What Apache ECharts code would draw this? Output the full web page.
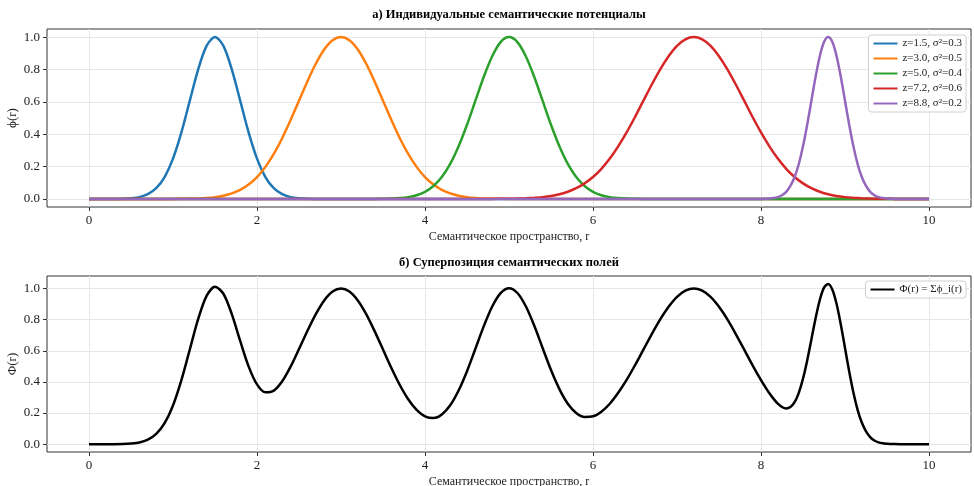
<!DOCTYPE html>
<html>
<head>
<meta charset="utf-8">
<script src="https://cdn.jsdelivr.net/npm/echarts@6/dist/echarts.min.js"></script>
<style>
html, body { margin: 0; padding: 0; background: #fff; }
#chart { width: 974px; height: 486px; }
</style>
</head>
<body>
<div id="chart"></div>
<script>
const blueR = [0, 0.3, 0.4, 0.5, 0.6, 0.7, 0.8, 0.9, 1.0, 1.1, 1.2, 1.3, 1.4, 1.5, 1.6, 1.7, 1.8, 1.9, 2.0, 2.1, 2.2, 2.3, 2.4, 2.5, 2.6, 2.7, 10];
const bluePhi = [0, 0.000, 0.001, 0.004, 0.011, 0.029, 0.066, 0.135, 0.249, 0.411, 0.607, 0.801, 0.946, 1.000, 0.946, 0.801, 0.607, 0.411, 0.249, 0.135, 0.066, 0.029, 0.011, 0.004, 0.001, 0.000, 0];

const orangeR = [0, 1.0, 1.1, 1.2, 1.3, 1.4, 1.5, 1.6, 1.7, 1.8, 1.9, 2.0, 2.1, 2.2, 2.3, 2.4, 2.5, 2.6, 2.7, 2.8, 2.9, 3.0,
    3.1, 3.2, 3.3, 3.4, 3.5, 3.6, 3.7, 3.8, 3.9, 4.0, 4.1, 4.2, 4.3, 4.4, 4.5, 4.6, 4.7, 4.8, 4.9, 5.0, 10];
const orangePhi = [0, 0.000, 0.001, 0.002, 0.003, 0.006, 0.011, 0.020, 0.034, 0.056, 0.089, 0.135, 0.198, 0.278, 0.375, 0.487, 0.607, 0.726, 0.835, 0.923, 0.980, 1.000,
    0.980, 0.923, 0.835, 0.726, 0.607, 0.487, 0.375, 0.278, 0.198, 0.135, 0.089, 0.056, 0.034, 0.020, 0.011, 0.006, 0.003, 0.002, 0.001, 0.000, 0];

const greenR = [0, 3.4, 3.5, 3.6, 3.7, 3.8, 3.9, 4.0, 4.1, 4.2, 4.3, 4.4, 4.5, 4.6, 4.7, 4.8, 4.9, 5.0,
    5.1, 5.2, 5.3, 5.4, 5.5, 5.6, 5.7, 5.8, 5.9, 6.0, 6.1, 6.2, 6.3, 6.4, 6.5, 6.6, 10];
const greenPhi = [0, 0.000, 0.001, 0.002, 0.005, 0.011, 0.023, 0.044, 0.080, 0.135, 0.216, 0.325, 0.458, 0.607, 0.755, 0.882, 0.969, 1.000,
    0.969, 0.882, 0.755, 0.607, 0.458, 0.325, 0.216, 0.135, 0.080, 0.044, 0.023, 0.011, 0.005, 0.002, 0.001, 0.000, 0];

const redR = [0, 4.8, 4.9, 5.0, 5.1, 5.2, 5.3, 5.4, 5.5, 5.6, 5.7, 5.8, 5.9, 6.0, 6.1, 6.2, 6.3, 6.4, 6.5, 6.6, 6.7, 6.8, 6.9, 7.0, 7.1, 7.2,
    7.3, 7.4, 7.5, 7.6, 7.7, 7.8, 7.9, 8.0, 8.1, 8.2, 8.3, 8.4, 8.5, 8.6, 8.7, 8.8, 8.9, 9.0, 9.1, 9.2, 9.3, 9.4, 9.5, 9.6, 10];
const redPhi = [0, 0.000, 0.001, 0.001, 0.002, 0.004, 0.007, 0.011, 0.018, 0.029, 0.044, 0.066, 0.096, 0.135, 0.186, 0.249, 0.325, 0.411, 0.506, 0.607, 0.707, 0.801, 0.882, 0.946, 0.986, 1.000,
    0.986, 0.946, 0.882, 0.801, 0.707, 0.607, 0.506, 0.411, 0.325, 0.249, 0.186, 0.135, 0.096, 0.066, 0.044, 0.029, 0.018, 0.011, 0.007, 0.004, 0.002, 0.001, 0.001, 0.000, 0];

const purpleR = [0, 8.0, 8.05, 8.1, 8.15, 8.2, 8.25, 8.3, 8.35, 8.4, 8.45, 8.5, 8.55, 8.6, 8.65, 8.7, 8.75, 8.8,
    8.85, 8.9, 8.95, 9.0, 9.05, 9.1, 9.15, 9.2, 9.25, 9.3, 9.35, 9.4, 9.45, 9.5, 9.55, 9.6, 10];
const purplePhi = [0, 0.000, 0.001, 0.002, 0.005, 0.011, 0.023, 0.044, 0.080, 0.135, 0.216, 0.325, 0.458, 0.607, 0.755, 0.882, 0.969, 1.000,
    0.969, 0.882, 0.755, 0.607, 0.458, 0.325, 0.216, 0.135, 0.080, 0.044, 0.023, 0.011, 0.005, 0.002, 0.001, 0.000, 0];

// superposition
const sumR = [0.0, 0.1, 0.2, 0.3, 0.4, 0.5, 0.6, 0.7, 0.8, 0.9, 1.0, 1.1, 1.2, 1.3, 1.4, 1.5, 1.6, 1.7, 1.8, 1.9,
    2.0, 2.1, 2.2, 2.3, 2.4, 2.5, 2.6, 2.7, 2.8, 2.9, 3.0, 3.1, 3.2, 3.3, 3.4, 3.5, 3.6, 3.7, 3.8, 3.9,
    4.0, 4.1, 4.2, 4.3, 4.4, 4.5, 4.6, 4.7, 4.8, 4.9, 5.0, 5.1, 5.2, 5.3, 5.4, 5.5, 5.6, 5.7, 5.8, 5.9,
    6.0, 6.1, 6.2, 6.3, 6.4, 6.5, 6.6, 6.7, 6.8, 6.9, 7.0, 7.1, 7.2, 7.3, 7.4, 7.5, 7.6, 7.7, 7.8, 7.9,
    8.0, 8.05, 8.1, 8.15, 8.2, 8.25, 8.3, 8.35, 8.4, 8.45, 8.5, 8.55, 8.6, 8.65, 8.7, 8.75, 8.8,
    8.85, 8.9, 8.95, 9.0, 9.05, 9.1, 9.15, 9.2, 9.25, 9.3, 9.35, 9.4, 9.45, 9.5, 9.55, 9.6, 9.7, 9.8, 9.9, 10.0];
const sumPhi = [0.000, 0.000, 0.000, 0.000, 0.001, 0.004, 0.011, 0.029, 0.066, 0.135, 0.249, 0.412, 0.608, 0.804, 0.952, 1.011, 0.966, 0.835, 0.663, 0.500,
    0.384, 0.333, 0.344, 0.404, 0.498, 0.611, 0.727, 0.835, 0.923, 0.980, 1.000, 0.980, 0.923, 0.835, 0.726, 0.608, 0.489, 0.380, 0.289, 0.221,
    0.179, 0.168, 0.191, 0.250, 0.345, 0.469, 0.613, 0.758, 0.884, 0.970, 1.002, 0.971, 0.886, 0.762, 0.618, 0.476, 0.354, 0.260, 0.201, 0.175,
    0.179, 0.209, 0.260, 0.330, 0.413, 0.507, 0.607, 0.707, 0.801, 0.882, 0.946, 0.986, 1.000, 0.986, 0.946, 0.882, 0.801, 0.707, 0.607, 0.506,
    0.411, 0.368, 0.327, 0.291, 0.260, 0.239, 0.230, 0.239, 0.270, 0.330, 0.421, 0.538, 0.673, 0.809, 0.926, 1.005, 1.029,
    0.992, 0.900, 0.769, 0.618, 0.467, 0.332, 0.221, 0.139, 0.083, 0.046, 0.024, 0.012, 0.006, 0.003, 0.001, 0.001, 0.000, 0.000, 0.000, 0.000];

const seriesNames = ['z=1.5, σ²=0.3', 'z=3.0, σ²=0.5', 'z=5.0, σ²=0.4', 'z=7.2, σ²=0.6', 'z=8.8, σ²=0.2'];
const sumName = 'Φ(r) = Σϕ_i(r)';
const xTicks = [0, 2, 4, 6, 8, 10];
const yTicks = [0, 0.2, 0.4, 0.6, 0.8, 1.0];

const colors = ['#1f77b4', '#ff7f0e', '#2ca02c', '#d62728', '#9467bd'];
const font = 'Liberation Serif';

function pairs(rs, vs) {
    return rs.map(function (r, i) { return [r, vs[i]]; });
}

const chart = echarts.init(document.getElementById('chart'));

function xAxisFor(gridIndex) {
    return {
        type: 'value',
        gridIndex: gridIndex,
        min: -0.5,
        max: 10.5,
        name: 'Семантическое пространство, r',
        nameLocation: 'middle',
        nameGap: 24,
        nameTextStyle: { fontFamily: font, fontSize: 12, color: '#222' },
        axisLine: { show: false, onZero: false },
        axisTick: { show: true, length: 4, inside: false, customValues: xTicks, lineStyle: { color: '#333' } },
        axisLabel: { customValues: xTicks, margin: 7, fontFamily: font, fontSize: 13, color: '#222' },
        splitLine: { show: true, lineStyle: { color: '#e6e6e6', width: 1 } }
    };
}

function yAxisFor(gridIndex, max, label) {
    return {
        type: 'value',
        gridIndex: gridIndex,
        min: -0.05,
        max: max,
        name: label,
        nameLocation: 'middle',
        nameGap: 28,
        nameMoveOverlap: false,
        nameTextStyle: { fontFamily: font, fontSize: 13, color: '#222' },
        axisLine: { show: false, onZero: false },
        axisTick: { show: true, length: 4, customValues: yTicks, lineStyle: { color: '#333' } },
        axisLabel: {
            customValues: yTicks, margin: 7, fontFamily: font, fontSize: 13, color: '#222',
            formatter: function (v) { return v.toFixed(1); }
        },
        splitLine: { show: true, lineStyle: { color: '#e6e6e6', width: 1 } }
    };
}

const indiv = [[blueR, bluePhi], [orangeR, orangePhi], [greenR, greenPhi], [redR, redPhi], [purpleR, purplePhi]];

const series = indiv.map(function (d, i) {
    return {
        name: seriesNames[i],
        type: 'line',
        xAxisIndex: 0,
        yAxisIndex: 0,
        symbol: 'none',
        smooth: 0.3,
        color: colors[i],
        lineStyle: { width: 2.5, color: colors[i] },
        data: pairs(d[0], d[1])
    };
});
series.push({
    name: sumName,
    type: 'line',
    xAxisIndex: 1,
    yAxisIndex: 1,
    symbol: 'none',
    smooth: 0.3,
    color: '#000',
    lineStyle: { width: 2.5, color: '#000' },
    data: pairs(sumR, sumPhi)
});

const legendBase = {
    orient: 'vertical',
    right: 8,
    backgroundColor: '#fff',
    borderColor: '#d0d0d0',
    borderWidth: 1,
    borderRadius: 3,
    padding: [3, 4, 3, 4],
    itemGap: 4,
    itemWidth: 24,
    itemHeight: 11.5,
    selectedMode: false,
    itemStyle: { opacity: 0 },
    textStyle: { fontFamily: font, fontSize: 11, color: '#222' }
};

const option = {
    animation: false,
    backgroundColor: '#fff',
    title: [
        {
            text: 'а) Индивидуальные семантические потенциалы',
            left: 509, top: 8, padding: 0, textAlign: 'center',
            textStyle: { fontFamily: font, fontSize: 12.5, fontWeight: 'bold', color: '#000' }
        },
        {
            text: 'б) Суперпозиция семантических полей',
            left: 509, top: 256, padding: 0, textAlign: 'center',
            textStyle: { fontFamily: font, fontSize: 12.5, fontWeight: 'bold', color: '#000' }
        }
    ],
    legend: [
        Object.assign({}, legendBase, { top: 35, data: seriesNames }),
        Object.assign({}, legendBase, { top: 281, data: [sumName] })
    ],
    grid: [
        { left: 47, right: 3, top: 29, height: 178, outerBoundsMode: 'none', show: true, borderColor: '#333', borderWidth: 1, backgroundColor: 'transparent' },
        { left: 47, right: 3, top: 276, height: 176, outerBoundsMode: 'none', show: true, borderColor: '#333', borderWidth: 1, backgroundColor: 'transparent' }
    ],
    xAxis: [xAxisFor(0), xAxisFor(1)],
    yAxis: [yAxisFor(0, 1.05, 'ϕ(r)'), yAxisFor(1, 1.08, 'Φ(r)')],
    series: series
};

chart.setOption(option);
</script>
</body>
</html>
